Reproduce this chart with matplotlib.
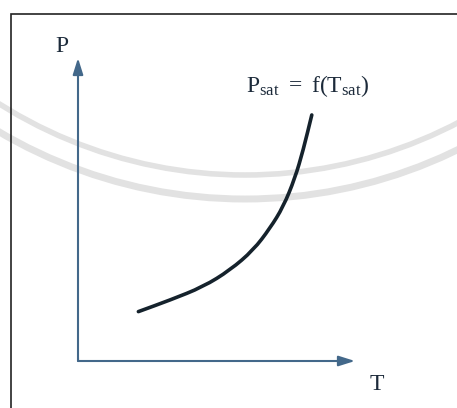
import matplotlib.pyplot as plt
import numpy as np
from matplotlib.patches import Arc, PathPatch
from matplotlib.path import Path

plt.rcParams["font.family"] = ["Liberation Serif", "DejaVu Serif"]
plt.rcParams["mathtext.fontset"] = "custom"
plt.rcParams["mathtext.rm"] = "Liberation Serif"
plt.rcParams["mathtext.it"] = "Liberation Serif"

# saturation curve, arbitrary units (T and P axes run 0..10)
T_sat = [2.18, 3.32, 4.52, 5.49, 6.33, 6.93, 7.41, 7.83, 8.13, 8.44]
P_sat = [1.63, 2.01, 2.45, 3.00, 3.66, 4.38, 5.09, 6.03, 6.96, 8.12]

W, H = 457, 408
fig = plt.figure(figsize=(W / 100, H / 100), dpi=100)

# background layer in pixel units for the frame and the faint seal rings
bg = fig.add_axes([0, 0, 1, 1])
bg.set_xlim(0, W)
bg.set_ylim(H, 0)
bg.axis("off")
for r, lw in [(460, 4.0), (484, 5.0)]:
    bg.add_patch(Arc((245, -285), 2 * r, 2 * r, theta1=0, theta2=180,
                     color="#e2e2e2", lw=lw, zorder=0))
bg.plot([11, 11, W + 5], [H + 5, 14, 14], color="#222222", lw=1.2,
        solid_joinstyle="miter", clip_on=False)

ax = fig.add_axes([78 / W, 1 - 361 / H, 277 / W, 303 / H])
ax.set_xlim(0, 10)
ax.set_ylim(0, 10)
ax.axis("off")
ax.patch.set_alpha(0)

axis_color = "#43688a"
arrow = dict(arrowstyle="-|>,head_length=0.7,head_width=0.22", color=axis_color,
             lw=1.5, shrinkA=0, shrinkB=0, mutation_scale=14)
ax.annotate("", xy=(10, 0), xytext=(0, 0), arrowprops=arrow, annotation_clip=False)
ax.annotate("", xy=(0, 10), xytext=(0, 0), arrowprops=arrow, annotation_clip=False)
ax.plot([0, 0], [0, 0.05], color=axis_color, lw=1.5, solid_capstyle="projecting")

# smooth the curve with quadratic Bezier segments through the midpoints
pts = np.column_stack([T_sat, P_sat])
mids = (pts[:-1] + pts[1:]) / 2
verts = [pts[0], mids[0]]
codes = [Path.MOVETO, Path.LINETO]
for i in range(1, len(pts) - 1):
    verts += [pts[i], mids[i]]
    codes += [Path.CURVE3, Path.CURVE3]
verts.append(pts[-1])
codes.append(Path.LINETO)
ax.add_patch(PathPatch(Path(verts, codes), fill=False, edgecolor="#15222c",
                       lw=2.6, capstyle="round"))

txt_color = "#1c2a3a"
fig.text(62 / W, 1 - 52 / H, "P", fontsize=17, color=txt_color,
         ha="center", va="baseline")
fig.text(377 / W, 1 - 390 / H, "T", fontsize=17, color=txt_color,
         ha="center", va="baseline")
fig.text(246 / W, 1 - 92 / H, r"$\mathrm{P_{sat}\ =\ f(T_{sat})}$", fontsize=17,
         color=txt_color, ha="left", va="baseline")

fig.savefig("out.png", dpi=100)
